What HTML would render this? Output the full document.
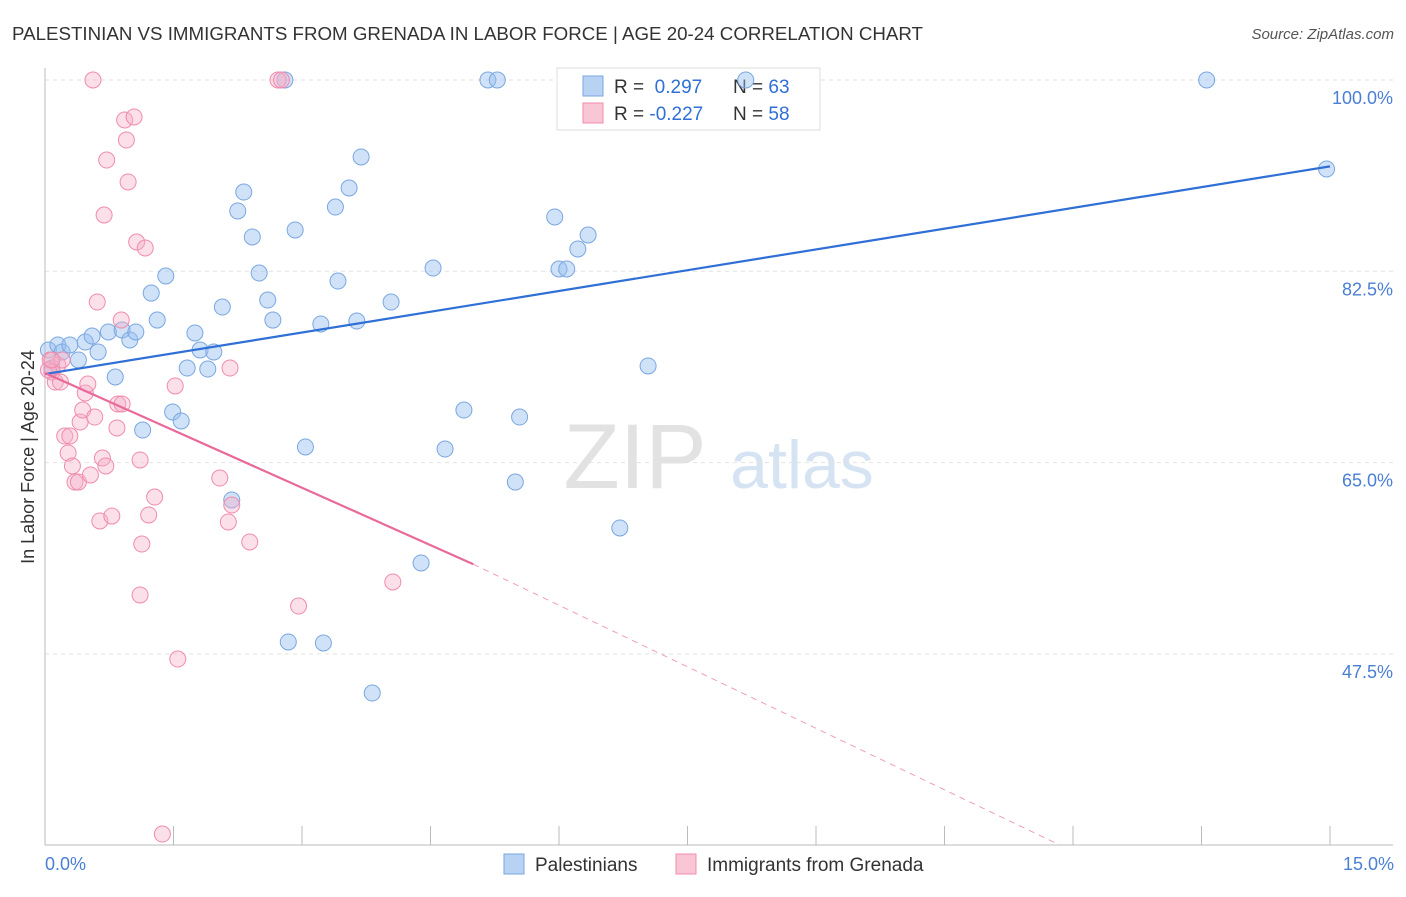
<!DOCTYPE html>
<html><head><meta charset="utf-8"><style>
body{margin:0;background:#fff;font-family:"Liberation Sans",sans-serif;}
svg text{font-family:"Liberation Sans",sans-serif;}
</style></head><body>
<svg width="1406" height="892" viewBox="0 0 1406 892">
<text x="12" y="40" font-size="18" fill="#333" textLength="911" lengthAdjust="spacingAndGlyphs">PALESTINIAN VS IMMIGRANTS FROM GRENADA IN LABOR FORCE | AGE 20-24 CORRELATION CHART</text>
<text x="1394" y="39" font-size="15" fill="#555" font-style="italic" text-anchor="end">Source: ZipAtlas.com</text>
<g><text x="635" y="488" font-size="92" fill="#e2e2e2" font-family="Liberation Serif" text-anchor="middle">ZIP</text><text x="802" y="488" font-size="68" fill="#d6e3f3" text-anchor="middle">atlas</text></g>
<g id="grid"></g>
<g id="axes"></g>
<g>
<rect x="557" y="68" width="263" height="62" fill="#fff" stroke="#ddd"/>
<rect x="583" y="76" width="20" height="20" fill="#b8d2f4" stroke="#7aa7e0"/>
<rect x="583" y="103" width="20" height="20" fill="#f8c6d5" stroke="#f08cab"/>
<text x="614" y="93" font-size="19" fill="#333">R = <tspan fill="#2f6fd6">&#160;0.297</tspan></text>
<text x="733" y="93" font-size="19" fill="#333">N = <tspan fill="#2f6fd6">63</tspan></text>
<text x="614" y="120" font-size="19" fill="#333">R = <tspan fill="#2f6fd6">-0.227</tspan></text>
<text x="733" y="120" font-size="19" fill="#333">N = <tspan fill="#2f6fd6">58</tspan></text>
</g>
<g id="marks"></g>
<text transform="translate(34,457) rotate(-90)" font-size="18" fill="#333" text-anchor="middle">In Labor Force | Age 20-24</text>
<text x="45" y="870" font-size="18" fill="#4a7fd4">0.0%</text>
<text x="1394" y="870" font-size="18" fill="#4a7fd4" text-anchor="end">15.0%</text>
<g>
<rect x="504" y="854" width="20" height="20" fill="#b8d2f4" stroke="#7aa7e0"/>
<text x="535" y="871" font-size="19" fill="#333">Palestinians</text>
<rect x="676" y="854" width="20" height="20" fill="#f8c6d5" stroke="#f08cab"/>
<text x="707" y="871" font-size="19" fill="#333">Immigrants from Grenada</text>
</g>
</svg>
<script>
const yTicks=[100,82.5,65,47.5];
const yTickLabels=["100.0%","82.5%","65.0%","47.5%"];
const xTicks=[0,1.5,3,4.5,6,7.5,9,10.5,12,13.5,15];
const blueX=[0.04,0.08,0.15,0.20,0.29,0.39,0.47,0.55,0.62,0.74,0.82,0.90,0.99,1.06,1.14,1.24,1.31,1.41,1.49,1.59,1.66,1.75,1.81,1.90,1.97,2.07,2.25,2.32,2.42,2.50,2.60,2.66,2.80,2.84,2.92,3.04,3.22,3.25,3.39,3.42,3.55,3.64,3.69,3.82,4.04,4.39,4.53,4.67,4.89,5.17,5.28,5.49,5.54,5.95,6.00,6.09,6.22,6.34,6.71,7.04,8.18,13.56,14.96,2.18];
const blueY=[75.30,73.65,75.76,75.12,75.76,74.39,76.03,76.58,75.12,76.95,72.83,77.13,76.22,76.95,67.98,80.51,78.04,82.07,69.63,68.81,73.65,76.86,75.30,73.56,75.12,79.23,88.02,89.75,85.64,82.34,79.87,78.04,100,48.59,86.28,66.43,77.68,48.50,88.38,81.61,90.12,77.95,92.96,43.92,79.69,55.82,82.80,66.24,69.81,100,100,63.22,69.17,87.47,82.71,82.71,84.54,85.82,59.02,73.84,100,100,91.86,61.58];
const pinkX=[0.06,0.08,0.12,0.15,0.18,0.20,0.23,0.27,0.29,0.32,0.35,0.39,0.41,0.44,0.47,0.50,0.53,0.56,0.58,0.61,0.64,0.67,0.69,0.71,0.72,0.78,0.84,0.85,0.89,0.90,0.93,0.95,0.97,1.04,1.07,1.11,1.13,1.17,1.21,1.11,1.28,1.37,1.52,1.55,2.04,2.14,2.16,2.18,2.39,2.72,2.76,2.96,4.06,0.04,0.08];
const pinkY=[74.39,73.29,72.37,73.93,72.37,74.39,67.43,65.88,67.43,64.69,63.22,63.22,68.71,69.81,71.37,72.19,63.87,100,69.17,79.69,59.66,65.42,87.65,64.69,92.68,60.11,68.17,70.36,78.04,70.36,96.34,94.51,90.67,96.62,85.18,65.24,57.55,84.63,60.21,52.89,61.85,31.02,72.01,47.03,63.59,59.57,73.65,61.12,57.74,100,100,51.88,54.08,73.47,74.39];
const blueTrend=[[0,73.1],[15,92.1]];
const pinkTrendSolid=[[0,73.2],[5.0,55.7]];
const pinkTrendDash=[[5.0,55.7],[11.85,30.0]];
const NS="http://www.w3.org/2000/svg";
const X=v=>45+v/15*1285;
const Y=v=>80+(100-v)/17.5*191.3;
function mk(tag,attrs,parent){const e=document.createElementNS(NS,tag);for(const k in attrs)e.setAttribute(k,attrs[k]);document.getElementById(parent).appendChild(e);return e;}
yTicks.forEach((t,i)=>{
 const l=mk('line',{x1:45,x2:1393,y1:Y(t),y2:Y(t),stroke:'#e2e2e2','stroke-dasharray':'4,4'},'grid');
 
 
 const tx=mk('text',{x:1393,y:Y(t)+24,'font-size':18,fill:'#4a7fd4','text-anchor':'end'},'grid');
 tx.textContent=yTickLabels[i];
 
 
});
const ax=mk('line',{x1:45,x2:1393,y1:845,y2:845,stroke:'#bbb'},'axes');


const ay=mk('line',{x1:45,x2:45,y1:68,y2:845,stroke:'#bbb'},'axes');


xTicks.forEach(t=>{
 const l=mk('line',{x1:X(t),x2:X(t),y1:826,y2:845,stroke:'#bbb'},'axes');
 
 
});
blueX.forEach((v,i)=>{
 const c=mk('circle',{cx:X(v),cy:Y(blueY[i]),r:8,fill:'rgba(150,190,240,0.45)',stroke:'#7aa7e0','stroke-width':1},'marks');
 
 
});
pinkX.forEach((v,i)=>{
 const c=mk('circle',{cx:X(v),cy:Y(pinkY[i]),r:8,fill:'rgba(245,175,200,0.4)',stroke:'#f08cab','stroke-width':1},'marks');
 
 
});
const bl=mk('line',{x1:X(blueTrend[0][0]),y1:Y(blueTrend[0][1]),x2:X(blueTrend[1][0]),y2:Y(blueTrend[1][1]),stroke:'#2f6fd6','stroke-width':2.2},'marks');


const pl=mk('line',{x1:X(pinkTrendSolid[0][0]),y1:Y(pinkTrendSolid[0][1]),x2:X(pinkTrendSolid[1][0]),y2:Y(pinkTrendSolid[1][1]),stroke:'#e8699a','stroke-width':2.2},'marks');


const pd=mk('line',{x1:X(pinkTrendDash[0][0]),y1:Y(pinkTrendDash[0][1]),x2:X(pinkTrendDash[1][0]),y2:Y(pinkTrendDash[1][1]),stroke:'#eea0bd','stroke-width':1,'stroke-dasharray':'6,5'},'marks');


</script>
</body></html>
